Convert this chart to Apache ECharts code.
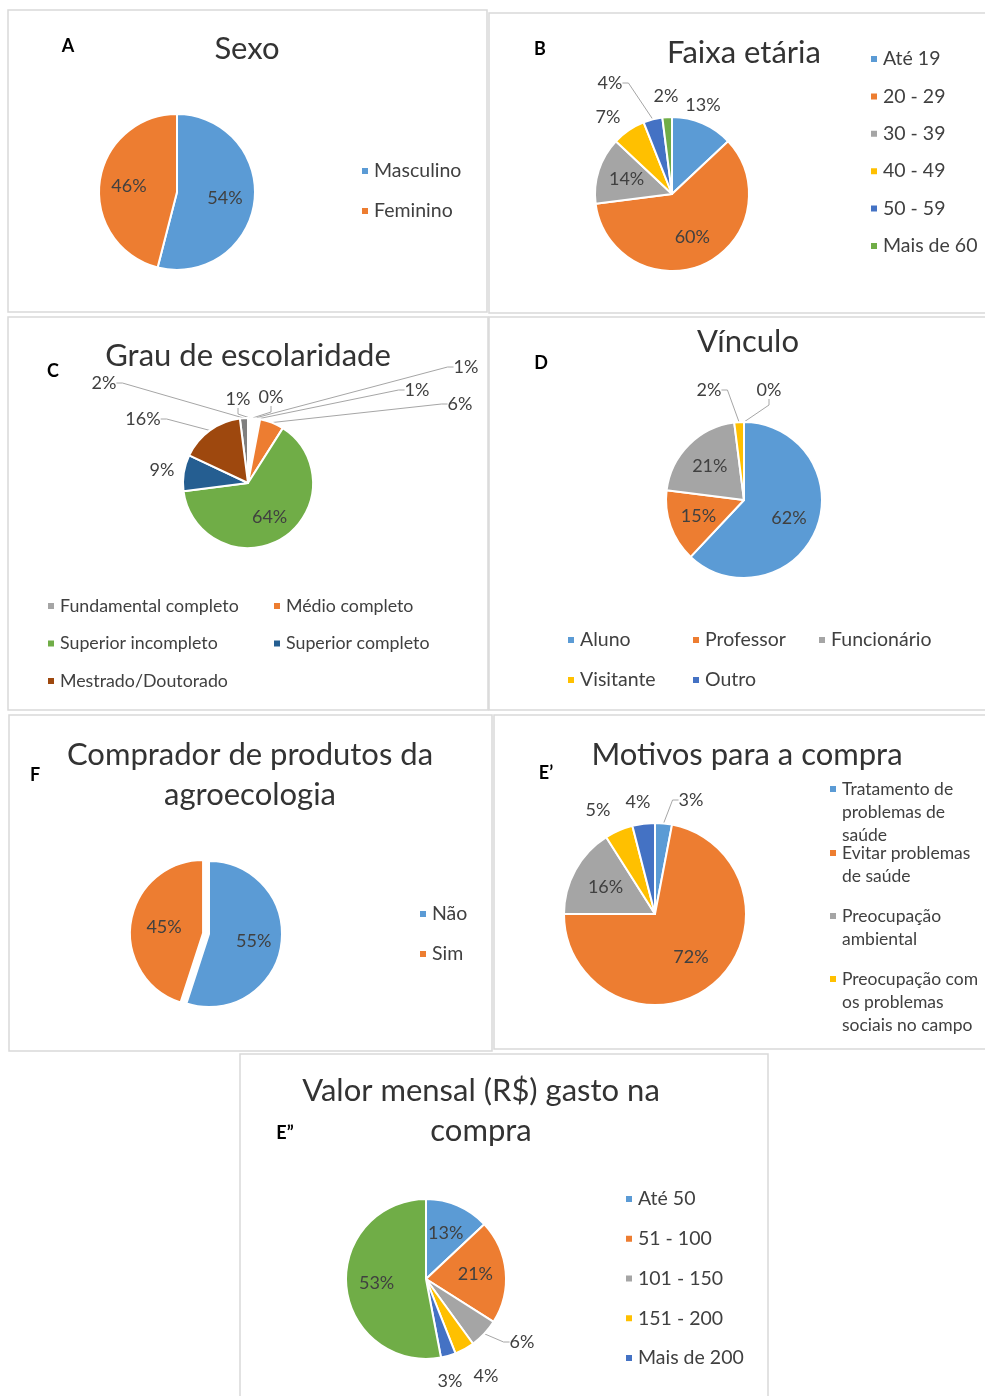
<!DOCTYPE html>
<html>
<head>
<meta charset="utf-8">
<script src="https://cdn.jsdelivr.net/npm/echarts@6/dist/echarts.min.js"></script>
<style>
  html, body { margin: 0; padding: 0; background: #fff; }
  #chart { width: 985px; height: 1396px; }
</style>
</head>
<body>
<div id="chart"></div>
<script>
// A - Sexo
const sexoNomes = ['Masculino', 'Feminino'];
const sexoPct = [54, 46];
// B - Faixa etária
const idadeNomes = ['Até 19', '20 - 29', '30 - 39', '40 - 49', '50 - 59', 'Mais de 60'];
const idadePct = [13, 60, 14, 7, 4, 2];
// C - Grau de escolaridade (4 fatias sem legenda no original)
const escolaNomes = ['Fundamental completo', 'sem legenda 1', 'sem legenda 2', 'sem legenda 3', 'sem legenda 4',
  'Médio completo', 'Superior incompleto', 'Superior completo', 'Mestrado/Doutorado'];
const escolaPct = [2, 1, 0, 1, 1, 6, 64, 9, 16];
// D - Vínculo
const vinculoNomes = ['Aluno', 'Professor', 'Funcionário', 'Visitante', 'Outro'];
const vinculoPct = [62, 15, 21, 2, 0];
// F - Comprador
const compradorNomes = ['Não', 'Sim'];
const compradorPct = [55, 45];
// E' - Motivos
const motivoNomes = ['Tratamento de problemas de saúde', 'Evitar problemas de saúde', 'Preocupação ambiental',
  'Preocupação com os problemas sociais no campo', 'Outros motivos'];
const motivoPct = [3, 72, 16, 5, 4];
const motivoLinhas = [['Tratamento de', 'problemas de', 'saúde'], ['Evitar problemas', 'de saúde'],
  ['Preocupação', 'ambiental'], ['Preocupação com', 'os problemas', 'sociais no campo']];
// E'' - Valor mensal
const valorNomes = ['Até 50', '51 - 100', '101 - 150', '151 - 200', 'Mais de 200', 'sem legenda 5'];
const valorPct = [13, 21, 6, 4, 3, 53];

const BLUE = '#5B9BD5', ORANGE = '#ED7D31', GRAY = '#A5A5A5', YELLOW = '#FFC000',
  DBLUE = '#4472C4', GREEN = '#70AD47', NAVY = '#255E91', BROWN = '#9E480E', DGRAY = '#7F7F7F';
const FONT = 'Lato, "Open Sans", sans-serif';
const TEXT = '#404040';

function pieSeries(names, values, colors, cfg) {
  const spots = cfg.spots || {};
  const cx = cfg.center[0], cy = cfg.center[1];
  return {
    type: 'pie',
    center: cfg.center,
    radius: cfg.r,
    startAngle: cfg.start || 90,
    clockwise: true,
    avoidLabelOverlap: false,
    animation: false,
    selectedMode: cfg.selected != null ? 'multiple' : false,
    selectedOffset: 6,
    itemStyle: { borderColor: '#fff', borderWidth: 2 },
    label: { show: true, position: 'inside', formatter: '{c}%', color: TEXT, fontFamily: FONT, fontSize: 18 },
    labelLine: { show: false, length: 4, length2: 6, lineStyle: { color: '#A6A6A6', width: 1 } },
    labelLayout: p => {
      const s = spots[p.dataIndex];
      if (s) return { x: s[0], y: s[1], align: 'center', verticalAlign: 'middle' };
      // inside labels: push out to ~0.62 r along the slice direction, like Excel
      const lx = p.labelRect.x + p.labelRect.width / 2 - cx;
      const ly = p.labelRect.y + p.labelRect.height / 2 - cy;
      const d = Math.sqrt(lx * lx + ly * ly) || 1;
      const k = 0.62 * cfg.r / d;
      return { x: cx + lx * k, y: cy + ly * k, align: 'center', verticalAlign: 'middle' };
    },
    data: names.map((n, i) => {
      const s = spots[i];
      const d = { name: n, value: values[i], itemStyle: { color: colors[i] } };
      if (cfg.selected === i) d.selected = true;
      if (s) {
        d.label = { position: 'outside' };
        d.labelLine = { show: !!s[2] };
      }
      return d;
    })
  };
}

function legend(names, left, firstY, spacing, size, extra) {
  const lh = Math.round(size * 1.2);
  return Object.assign({
    orient: 'vertical', left: left, top: firstY - lh / 2, padding: 0,
    itemGap: spacing - lh, itemWidth: 8, itemHeight: 8, icon: 'rect', selectedMode: false,
    textStyle: { fontFamily: FONT, fontSize: size, color: TEXT, lineHeight: lh },
    data: names
  }, extra || {});
}

function title(text, cx, cy, size, bold) {
  return {
    text: text, left: cx, top: cy, padding: 0, textAlign: 'center', textVerticalAlign: 'middle',
    textStyle: { fontFamily: FONT, fontSize: size, fontWeight: bold ? 'bold' : 'normal',
      color: bold ? '#000' : '#333', lineHeight: 40 }
  };
}

const boxes = [[8, 10, 479, 302], [489, 13, 500, 300], [8, 317, 480, 393], [489, 317, 500, 393],
  [9, 715, 483, 336], [494, 715, 495, 334], [240, 1054, 528, 350]];

// E' legend: one legend per item so the marker sits on the first line
const motivoLegends = motivoLinhas.map((lines, i) => {
  const lh = 23;
  const firstY = [789, 853, 916, 979][i];
  const n = lines.length;
  return {
    orient: 'vertical', left: 828, top: firstY - (2 * n - 1) * lh / 2, padding: 0,
    itemWidth: 8, itemHeight: 8, icon: 'rect', selectedMode: false,
    textStyle: { fontFamily: FONT, fontSize: 17.5, color: TEXT, lineHeight: lh },
    formatter: () => '\n'.repeat(n - 1) + lines.join('\n'),
    data: [motivoNomes[i]]
  };
});

const chart = echarts.init(document.getElementById('chart'), null, { renderer: 'canvas' });
chart.setOption({
  backgroundColor: '#fff',
  animation: false,
  title: [
    title('A', 68, 46, 18, true), title('Sexo', 247, 49, 31),
    title('B', 540, 49, 18, true), title('Faixa etária', 744, 53, 31),
    title('C', 53, 371, 18, true), title('Grau de escolaridade', 248, 356, 31),
    title('D', 541, 363, 18, true), title('Vínculo', 748, 342, 31),
    title('F', 35, 775, 18, true), title('Comprador de produtos da\nagroecologia', 250, 775, 31),
    title('E\u2019', 546, 773, 18, true), title('Motivos para a compra', 747, 755, 31),
    title('E\u201D', 285, 1133, 18, true), title('Valor mensal (R$) gasto na\ncompra', 481, 1111, 31)
  ],
  legend: [
    legend(sexoNomes, 360, 171, 40, 19.5),
    legend(idadeNomes, 869, 59, 37.4, 19.5),
    legend([{ name: 'Fundamental completo', itemStyle: { color: GRAY } }, 'Superior incompleto', 'Mestrado/Doutorado'],
      46, 606, 37.5, 17.8),
    legend(['Médio completo', 'Superior completo'], 272, 606, 37.5, 17.8),
    legend(['Aluno', 'Visitante'], 566, 640, 40, 19.5),
    legend(['Professor', 'Outro'], 691, 640, 40, 19.5),
    legend(['Funcionário'], 817, 640, 40, 19.5),
    legend(compradorNomes, 418, 914, 40, 19.5),
    ...motivoLegends,
    legend(valorNomes.slice(0, 5), 624, 1199, 39.75, 19.5)
  ],
  graphic: boxes.map(b => ({
    type: 'rect', shape: { x: b[0], y: b[1], width: b[2], height: b[3] },
    style: { fill: 'none', stroke: '#D9D9D9', lineWidth: 1.5 }, silent: true, z: -1
  })),
  series: [
    pieSeries(sexoNomes, sexoPct, [BLUE, ORANGE], { center: [177, 192], r: 78 }),
    pieSeries(idadeNomes, idadePct, [BLUE, ORANGE, GRAY, YELLOW, DBLUE, GREEN], {
      center: [672, 194], r: 77,
      spots: { 0: [703, 105], 3: [608, 117], 4: [610, 83, true], 5: [666, 96] }
    }),
    pieSeries(escolaNomes, escolaPct, [DGRAY, '#fff', '#fff', '#fff', '#fff', ORANGE, GREEN, NAVY, BROWN], {
      center: [248, 483], r: 65, start: 97.2,
      spots: { 0: [104, 383, true], 1: [238, 399, true], 2: [271, 397, true], 3: [466, 367, true],
        4: [417, 390, true], 5: [460, 404, true], 7: [162, 470], 8: [143, 419, true] }
    }),
    pieSeries(vinculoNomes, vinculoPct, [BLUE, ORANGE, GRAY, YELLOW, DBLUE], {
      center: [744, 500], r: 78,
      spots: { 3: [709, 390, true], 4: [769, 390, true] }
    }),
    pieSeries(compradorNomes, compradorPct, [BLUE, ORANGE], { center: [209, 934], r: 73, selected: 1 }),
    pieSeries(motivoNomes, motivoPct, [BLUE, ORANGE, GRAY, YELLOW, DBLUE], {
      center: [655, 914], r: 91,
      spots: { 0: [691, 800, true], 3: [598, 810], 4: [638, 802] }
    }),
    pieSeries(valorNomes, valorPct, [BLUE, ORANGE, GRAY, YELLOW, DBLUE, GREEN], {
      center: [426, 1279], r: 80,
      spots: { 2: [522, 1342, true], 3: [486, 1376], 4: [450, 1381] }
    })
  ]
});
</script>
</body>
</html>
